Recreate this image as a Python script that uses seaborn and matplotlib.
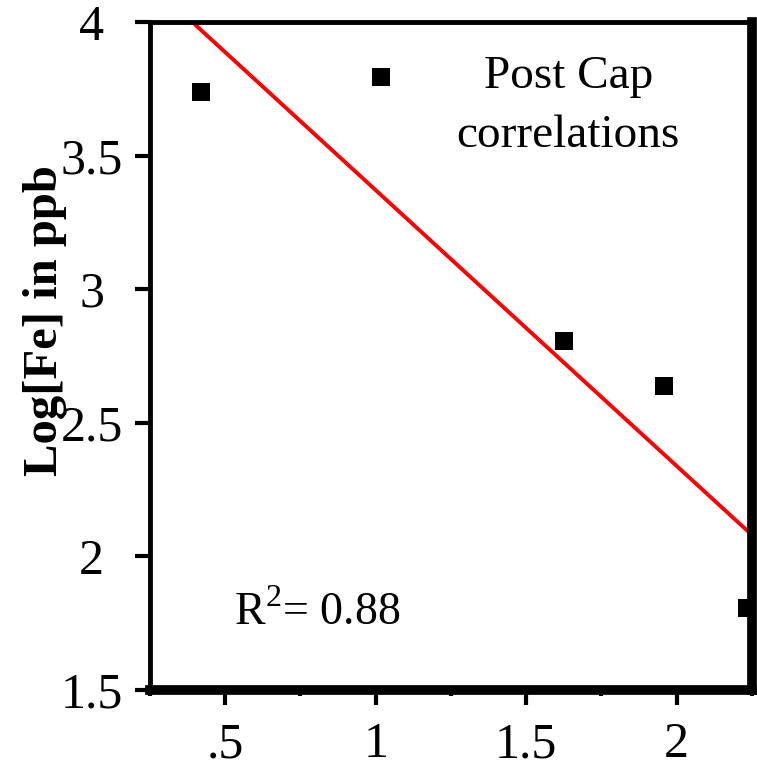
import matplotlib
matplotlib.use("Agg")
import matplotlib.pyplot as plt
import seaborn as sns
import numpy as np
import pandas as pd
from matplotlib.ticker import FixedFormatter, FixedLocator

# data
x_vals = [0.418, 1.017, 1.626, 1.959, 2.232]
y_vals = [3.739, 3.794, 2.807, 2.639, 1.806]
fit_x = [0.40, 2.25]
fit_y = [3.99, 2.08]
x_ticks = [0.5, 1.0, 1.5, 2.0]
x_tick_labels = [".5", "1", "1.5", "2"]
y_ticks = [1.5, 2.0, 2.5, 3.0, 3.5, 4.0]
y_tick_labels = ["1.5", "2", "2.5", "3", "3.5", "4"]

sns.set_style("white")
plt.rcParams['font.family'] = ['Liberation Serif', 'DejaVu Serif']
plt.rcParams['mathtext.fontset'] = 'custom'
plt.rcParams['mathtext.rm'] = 'Liberation Serif'
plt.rcParams['text.color'] = 'black'
plt.rcParams['axes.labelcolor'] = 'black'
plt.rcParams['xtick.color'] = 'black'
plt.rcParams['ytick.color'] = 'black'

fig = plt.figure(figsize=(7.57, 7.68), dpi=100)
ax = fig.add_axes([150/757, 1-690/768, (752-150)/757, (690-22)/768])

pts = pd.DataFrame({"x": x_vals, "y": y_vals})
fit = pd.DataFrame({"x": fit_x, "y": fit_y})

sns.lineplot(data=fit, x="x", y="y", ax=ax, color="#ff0000", linewidth=2.8, zorder=2)
sns.scatterplot(data=pts, x="x", y="y", ax=ax, marker="s", s=150, color="black",
                linewidth=0, zorder=2)

ax.set_xlim(0.25, 2.25)
ax.set_ylim(1.5, 4.0)
ax.xaxis.set_major_locator(FixedLocator(x_ticks))
ax.xaxis.set_major_formatter(FixedFormatter(x_tick_labels))
ax.xaxis.set_minor_locator(FixedLocator([0.25, 0.75, 1.25, 1.75, 2.25]))
ax.yaxis.set_major_locator(FixedLocator(y_ticks))
ax.yaxis.set_major_formatter(FixedFormatter(y_tick_labels))

ax.tick_params(axis="x", which="major", direction="out", length=11, width=3,
               labelsize=36, pad=12, bottom=True, color="black", labelcolor="black")
ax.tick_params(axis="x", which="minor", direction="out", length=4, width=3,
               bottom=True, color="black")
ax.tick_params(axis="y", which="major", direction="out", length=11, width=3,
               labelsize=36, pad=31, left=True, color="black", labelcolor="black")
for lbl in ax.get_yticklabels():
    lbl.set_horizontalalignment("center")

for side, lw in [("left", 3.5), ("top", 3.5), ("right", 7), ("bottom", 7)]:
    ax.spines[side].set_visible(True)
    ax.spines[side].set_color("black")
    ax.spines[side].set_linewidth(lw)

ax.set_xlabel("")
ax.set_ylabel("Log[Fe] in ppb", fontsize=35, fontweight="bold", color="black")
ax.yaxis.set_label_coords(-0.138, 0.553)

ax.text(1.64, 3.753, "Post Cap", fontsize=34, ha="center", va="baseline", color="black")
ax.text(1.64, 3.532, "correlations", fontsize=34, ha="center", va="baseline", color="black")
ax.text(0.528, 1.743, r"R$^{\mathrm{2}}$= 0.88", fontsize=33, ha="left", va="baseline",
        color="black")
ax.set_facecolor("white")

fig.savefig("out.png", dpi=100, facecolor="white")
